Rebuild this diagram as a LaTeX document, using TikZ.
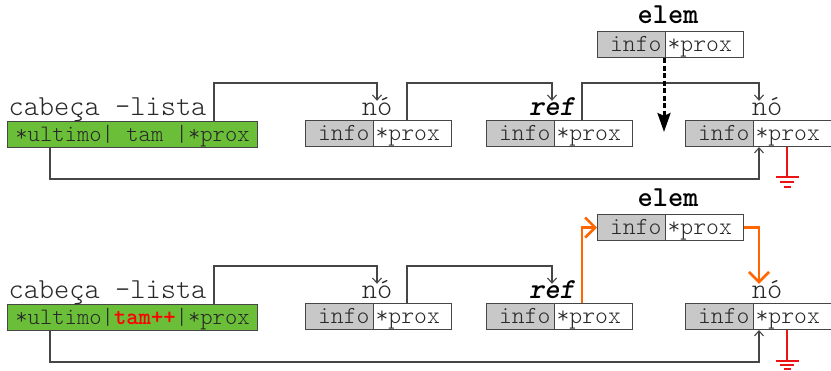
\documentclass[tikz,border=0pt]{standalone}
\usepackage{fontspec}
\usetikzlibrary{arrows.meta}
\definecolor{cellgray}{RGB}{200,200,200}
\definecolor{listgreen}{RGB}{106,190,56}
\definecolor{linegray}{RGB}{70,70,70}
\definecolor{inkgray}{RGB}{40,40,40}
\definecolor{hotorange}{RGB}{255,102,0}
\definecolor{earthred}{RGB}{235,20,20}

% typewriter faces: light for plain text, bold for names
\newcommand{\celltext}{\ttfamily\fontseries{l}\fontsize{24.5}{24.5}\selectfont}
\newcommand{\headtext}{\ttfamily\fontseries{l}\fontsize{23.5}{23.5}\selectfont}
\newcommand{\tagtext}{\ttfamily\fontseries{l}\fontsize{29}{29}\selectfont}
\newcommand{\nametext}{\ttfamily\bfseries\fontsize{29}{29}\selectfont}

\tikzset{
  cell/.style={draw=linegray, line width=1.1pt, minimum height=26pt, inner ysep=0pt,
    anchor=north west, font=\celltext, text=inkgray,
    text height=16pt, text depth=2pt},
  infocell/.style={cell, fill=cellgray, text width=60pt, inner xsep=4pt, align=right},
  proxcell/.style={cell, fill=white, text width=74pt, inner xsep=2pt, align=left},
  headbox/.style={cell, font=\headtext, fill=listgreen, minimum width=250pt, inner xsep=0pt},
  tag/.style={anchor=base, inner sep=0pt, text height=15pt, text depth=0pt,
    font=\tagtext, text=inkgray},
  boldtag/.style={tag, font=\nametext, text=black},
  reftag/.style={tag, font=\nametext\itshape, text=black},
  conn/.style={draw=linegray, line width=1.1pt, -{Straight Barb[length=5pt,width=9pt]}},
  insert/.style={draw=black, line width=3pt, dash pattern=on 5pt off 2.5pt,
    -{Stealth[length=19pt,width=13pt,inset=3pt]}},
  splice/.style={draw=hotorange, line width=2.6pt, line join=miter,
    -{Straight Barb[length=10pt,width=20pt,line width=2.6pt]}},
  earth/.style={draw=earthred, line width=1.4pt},
}

\begin{document}
\begin{tikzpicture}[x=1pt, y=-1pt]
\useasboundingbox (0,0) rectangle (831,371);

% ---------------- before: elem not yet linked ----------------
\node[headbox] (g) at (7,121) {*ultimo| tam |*prox};
\node[tag] (headlab) at (107.5,116) {cabeça -lista};

\node[infocell] (n1i) at (305,120) {info};
\node[proxcell] (n1p) at (373,120) {*prox};
\node[tag] (n1lab) at (377,116) {nó};

\node[infocell] (ri) at (486,120) {info};
\node[proxcell] (rp) at (554,120) {*prox};
\node[reftag] (reflab) at (552,116) {ref};

\node[infocell] (n3i) at (685,120) {info};
\node[proxcell] (n3p) at (753,120) {*prox};
\node[tag] (n3lab) at (767,116) {nó};

\node[infocell] (ei) at (597,31) {info};
\node[proxcell] (ep) at (665,31) {*prox};
\node[boldtag] (elemlab) at (668,24) {elem};

\coordinate (k1) at (214,83);
\coordinate (k2) at (407,83);
\coordinate (k3) at (582,83);
\coordinate (k4) at (50,179);
\coordinate (drop) at (664,132);
\coordinate (gnd) at (787,177);

\draw[conn] (g.north -| k1) -- (k1) -| (n1lab.north);
\draw[conn] (n1p.north -| k2) -- (k2) -| (reflab.north);
\draw[conn] (rp.north -| k3) -- (k3) -| ([xshift=-8pt]n3lab.north);
\draw[conn] (g.south -| k4) -- (k4) -| ([xshift=6pt]n3p.south west);
\draw[insert] (ei.south east -| drop) -- (drop);

\draw[earth] (n3p.south -| gnd) -- (gnd);
\draw[earth] ([xshift=-11.5pt]gnd) -- ([xshift=11.5pt]gnd);
\draw[earth] ([shift={(-7,5)}]gnd) -- ([shift={(7,5)}]gnd);
\draw[earth] ([shift={(-3.5,10)}]gnd) -- ([shift={(3.5,10)}]gnd);

% ---------------- after: elem spliced in after ref ----------------
\begin{scope}[shift={(0,183)}]
\node[headbox] (g2) at (7,121) {*ultimo|\textcolor{red}{\bfseries tam++}|*prox};
\node[tag] (headlab2) at (107.5,116) {cabeça -lista};

\node[infocell] (n1i2) at (305,120) {info};
\node[proxcell] (n1p2) at (373,120) {*prox};
\node[tag] (n1lab2) at (377,116) {nó};

\node[infocell] (ri2) at (486,120) {info};
\node[proxcell] (rp2) at (554,120) {*prox};
\node[reftag] (reflab2) at (552,116) {ref};

\node[infocell] (n3i2) at (685,120) {info};
\node[proxcell] (n3p2) at (753,120) {*prox};
\node[tag] (n3lab2) at (767,116) {nó};

\node[infocell] (ei2) at (597,31) {info};
\node[proxcell] (ep2) at (665,31) {*prox};
\node[boldtag] (elemlab2) at (668,24) {elem};

\coordinate (m1) at (214,83);
\coordinate (m2) at (407,83);
\coordinate (m3) at (582,83);
\coordinate (m4) at (50,179);
\coordinate (gnd2) at (787,178);
\end{scope}

\draw[conn] (g2.north -| m1) -- (m1) -| (n1lab2.north);
\draw[conn] (n1p2.north -| m2) -- (m2) -| (reflab2.north);
\draw[conn] (g2.south -| m4) -- (m4) -| ([xshift=6pt]n3p2.south west);
\draw[splice] (rp2.north -| m3) |- (ei2.west);
\draw[splice] (ep2.east) -| ([xshift=-8pt]n3lab2.north);

\draw[earth] (n3p2.south -| gnd2) -- (gnd2);
\draw[earth] ([xshift=-11.5pt]gnd2) -- ([xshift=11.5pt]gnd2);
\draw[earth] ([shift={(-7,4)}]gnd2) -- ([shift={(7,4)}]gnd2);
\draw[earth] ([shift={(-3.5,8)}]gnd2) -- ([shift={(3.5,8)}]gnd2);
\end{tikzpicture}
\end{document}
